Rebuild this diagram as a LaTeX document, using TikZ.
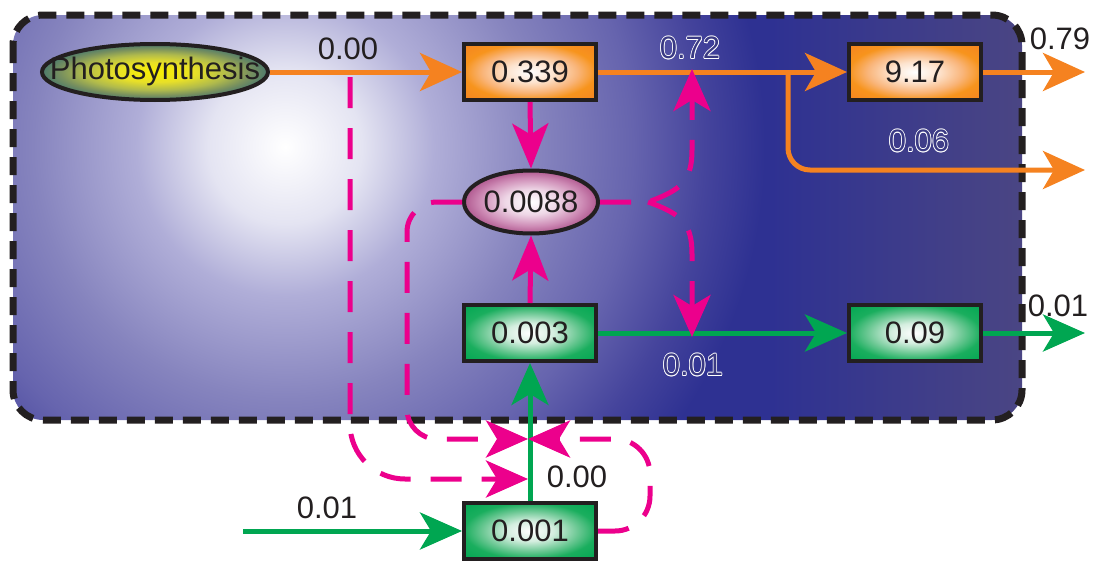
\documentclass[tikz,border=0pt]{standalone}
\usepackage{fontspec}
\setmainfont{Liberation Sans}
\usetikzlibrary{arrows.meta,shapes.geometric,calc}
\definecolor{ink}{HTML}{231F20}
\definecolor{org}{HTML}{F58220}
\definecolor{mag}{HTML}{EC008C}
\definecolor{grn}{HTML}{00A651}
\definecolor{navy}{HTML}{2E3192}
\definecolor{navyr}{HTML}{4B4683}
\definecolor{bgA}{HTML}{E4E4F2}
\definecolor{bgB}{HTML}{B0AED8}
\definecolor{bgC}{HTML}{8684BE}
\definecolor{bgD}{HTML}{6664AE}
\definecolor{bgE}{HTML}{45449C}
\definecolor{hol}{HTML}{3A3A84}
\definecolor{orA}{HTML}{FDE3CE}
\definecolor{orB}{HTML}{F9B57A}
\definecolor{orC}{HTML}{F7941D}
\definecolor{orD}{HTML}{F58220}
\definecolor{gnA}{HTML}{D4EEDF}
\definecolor{gnB}{HTML}{6CC894}
\definecolor{gnC}{HTML}{1AAE5E}
\definecolor{gnD}{HTML}{00A651}
\definecolor{pkA}{HTML}{EED6E6}
\definecolor{pkB}{HTML}{CE8CB6}
\definecolor{pkC}{HTML}{B0588F}
\definecolor{phA}{HTML}{FAF000}
\definecolor{phB}{HTML}{E8E028}
\definecolor{phC}{HTML}{B0BA4C}
\definecolor{phD}{HTML}{78905E}
\definecolor{phE}{HTML}{4C7A6C}
\pgfdeclareradialshading{bgshade}{\pgfpoint{0bp}{0bp}}{color(0bp)=(white); color(3.2bp)=(bgA); color(6.2bp)=(bgB); color(10.5bp)=(bgC); color(14.5bp)=(bgD); color(17.5bp)=(bgE); color(20bp)=(navy); color(50bp)=(navy)}
\pgfdeclareradialshading{orshade}{\pgfpoint{0bp}{0bp}}{color(0bp)=(white); color(9bp)=(orA); color(18bp)=(orB); color(25bp)=(orC); color(36bp)=(orD); color(50bp)=(orD)}
\pgfdeclareradialshading{gnshade}{\pgfpoint{0bp}{0bp}}{color(0bp)=(white); color(9bp)=(gnA); color(18bp)=(gnB); color(25bp)=(gnC); color(36bp)=(gnD); color(50bp)=(gnD)}
\pgfdeclareradialshading{pkshade}{\pgfpoint{0bp}{0bp}}{color(0bp)=(white); color(10bp)=(pkA); color(19bp)=(pkB); color(25bp)=(pkC); color(50bp)=(pkC)}
\pgfdeclareradialshading{phshade}{\pgfpoint{0bp}{0bp}}{color(0bp)=(phA); color(9bp)=(phB); color(16bp)=(phC); color(21bp)=(phD); color(25bp)=(phE); color(50bp)=(phE)}
\newcommand\hollowlabel[3]{%
  \foreach \k in {0,45,...,315}{\node[lbl,text=white] (#1-\k) at ($(#2)+(\k:0.8)$) {#3};}
  \node[lbl,text=hol] (#1) at (#2) {#3};}
\begin{document}
\begin{tikzpicture}[x=1pt,y=-1pt,
  txt/.style={font=\fontsize{31}{36}\selectfont, text=ink},
  lbl/.style={txt, inner sep=0pt},
  box/.style={txt, draw=ink, line width=4pt, minimum width=132pt, minimum height=56pt, inner sep=0pt},
  ellbox/.style={ellipse, draw=ink, line width=4pt, inner sep=0pt},
  oflow/.style={draw=org, line width=5pt, -{Stealth[length=42pt,width=38pt,inset=11pt]}},
  gflow/.style={draw=grn, line width=5pt, -{Stealth[length=42pt,width=37pt,inset=11pt]}},
  mflow/.style={draw=mag, line width=5pt, -{Stealth[length=45pt,width=36pt,inset=11pt]}},
  mflowd/.style={draw=mag, line width=5pt, dash pattern=on 31pt off 20pt, -{Stealth[length=42pt,width=37pt,inset=11pt]}}]
\useasboundingbox (0,0) rectangle (1096,562);
% background
\begin{scope}
  \clip[rounded corners=30pt] (13,15) rectangle (1022,420);
  \shade[shading=bgshade] (285,147) circle (600);
  \shade[left color=navy, right color=navyr] (770,0) rectangle (1030,430);
\end{scope}
\draw[ink, line width=7pt, dash pattern=on 18pt off 10pt, rounded corners=30pt] (13,15) rectangle (1022,420);
% nodes
\node[ellbox, shade, shading=phshade, minimum width=226pt, minimum height=56pt] (photo) at (155,72) {};
\node[lbl] (phototxt) at (155,71) {Photosynthesis};
\node[box, shade, shading=orshade] (b339) at (530,72) {0.339};
\node[box, shade, shading=orshade] (b917) at (915,72) {9.17};
\node[ellbox, shade, shading=pkshade, minimum width=134pt, minimum height=63pt] (e) at (531,202) {};
\node[lbl] (etxt) at (531,202) {0.0088};
\node[box, shade, shading=gnshade] (b003) at (530,333) {0.003};
\node[box, shade, shading=gnshade] (b09) at (915,333) {0.09};
\node[box, shade, shading=gnshade] (b001) at (530,531) {0.001};
% coordinates
\coordinate (o79) at (1085,72);
\coordinate (o06) at (1085,170);
\coordinate (br) at (788,72);
\coordinate (o09) at (1085,333);
\coordinate (i001) at (243,531);
\coordinate (dA) at (350,77);
\coordinate (gA) at (528,479);
\coordinate (gB) at (528,439);
\coordinate (fork) at (648,202);
\coordinate (t72) at (692,69);
\coordinate (t01) at (692,337);
% orange flows
\draw[oflow] (photo.east) -- (b339.west);
\draw[oflow] (b339.east) -- (b917.west);
\draw[oflow] (b917.east) -- (o79);
\draw[oflow, rounded corners=22pt] (br) |- (o06);
% green flows
\draw[gflow] (i001) -- (b001.west);
\draw[gflow] (b001.north) -- (b003.south);
\draw[gflow] (b003.east) -- (b09.west);
\draw[gflow] (b09.east) -- (o09);
% magenta flows
\draw[mflow] (b339.south) -- (e.north);
\draw[mflow] (b003.north) -- (e.south);
\draw[mflowd, rounded corners=55pt] (dA) |- (gA);
\draw[mflowd, rounded corners=30pt] (e.west) -| (407,439) -- (gB);
\draw[mflowd, rounded corners=35pt] (b001.east) -| (650,439) -- (gB);
\draw[mflowd] (e.east) -- (fork) .. controls (682,190) and (692,180) .. (692,150) -- (t72);
\draw[mflowd] (fork) .. controls (682,214) and (692,224) .. (692,254) -- (t01);
% labels
\node[lbl] (l000) at (348,49) {0.00};
\hollowlabel{l072}{690,48}{0.72}
\node[lbl] (l079) at (1060,39) {0.79};
\hollowlabel{l006}{919,141}{0.06}
\hollowlabel{l001a}{693,365}{0.01}
\node[lbl] (l001b) at (1058,306) {0.01};
\node[lbl] (l001c) at (327,508) {0.01};
\node[lbl] (l000b) at (577,477) {0.00};
\end{tikzpicture}
\end{document}
